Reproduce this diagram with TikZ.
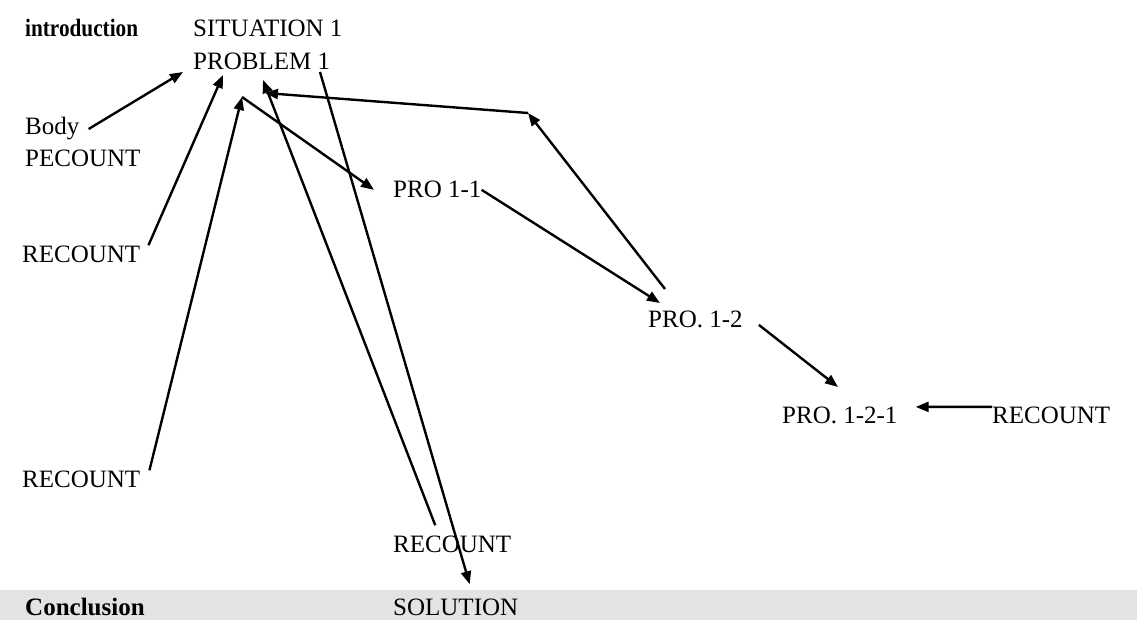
\documentclass[tikz,border=0pt]{standalone}
\usepackage{fontspec}
\setmainfont{Liberation Serif}
\usetikzlibrary{arrows.meta}
\begin{document}
\begin{tikzpicture}[x=1pt,y=-1pt,
  lbl/.style={anchor=base west, inner sep=0pt, font=\fontsize{25}{30}\selectfont},
  part/.style={lbl, font=\fontsize{25}{30}\selectfont\bfseries},
  arr/.style={-{Triangle[length=13pt,width=10pt]}, line width=2.4pt}]
\useasboundingbox (0,0) rectangle (1137,620);
% --- background band ---
  \fill[gray!22] (0,590) rectangle (1137,620);

% --- parts of the text ---
  \node[part] (intro) at (25,37) {\scalebox{0.85}[1]{introduction}};
  \node[part] (concl) at (25,615) {Conclusion};

% --- labels ---
  \node[lbl] (sit)  at (193,37)  {SITUATION 1};
  \node[lbl] (prob) at (193,70)  {PROBLEM 1};
  \node[lbl] (body) at (25,135)  {Body};
  \node[lbl] (pec)  at (25,167)  {PECOUNT};
  \node[lbl] (rec2) at (22,262)  {RECOUNT};
  \node[lbl] (rec3) at (22,487)  {RECOUNT};
  \node[lbl] (rec4) at (393,552) {RECOUNT};
  \node[lbl] (sol)  at (393,615) {SOLUTION};
  \node[lbl] (p11)  at (393,198) {PRO 1-1};
  \node[lbl] (p12)  at (648,327) {PRO. 1-2};
  \node[lbl] (p121) at (782,423) {PRO. 1-2-1};
  \node[lbl] (rec5) at (992,423) {RECOUNT};

% --- points under problem 1 ---
  \coordinate (sitA) at (183,72);
  \coordinate (sitB) at (223,75);
  \coordinate (hub)  at (242,97);
  \coordinate (probC) at (263,80);
  \coordinate (probD) at (265,93);
  \coordinate (probE) at (320,72);
  \coordinate (turn) at (528,113);
  \coordinate (p12up) at (665,289);
  \coordinate (p12tip) at (660,303);
  \coordinate (p121tip) at (838,387);

% --- arrows ---
  \draw[arr] ([xshift=9pt]body.east) -- (sitA);
  \draw[arr] ([xshift=8pt]rec2.north east) -- (sitB);
  \draw[arr] ([xshift=9pt]rec3.north east) -- (hub);
  \draw[arr] (hub) -- ([xshift=-19pt]p11.west);
  \draw[arr] (p11.east) -- (p12tip);
  \draw[arr] (p12up) -- (turn);
  \draw[arr] (turn) -- (probD);
  \draw[arr] ([xshift=-17pt,yshift=10pt]rec4.north) -- (probC);
  \draw[arr] (probE) -- ([xshift=14pt,yshift=14pt]sol.north);
  \draw[arr] ([xshift=16pt,yshift=-6pt]p12.east) -- (p121tip);
  \draw[arr] ([yshift=8pt]rec5.west) -- ([xshift=18pt,yshift=8pt]p121.east);
\end{tikzpicture}
\end{document}
